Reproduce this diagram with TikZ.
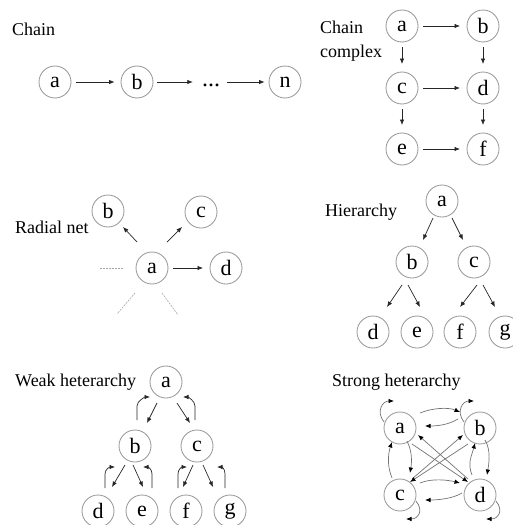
\documentclass[tikz,border=0pt]{standalone}
\usepackage{fontspec}
\setmainfont{Liberation Serif}
\usetikzlibrary{arrows.meta}
\begin{document}
\begin{tikzpicture}[x=1pt,y=-1pt,
  nd/.style={circle,draw=black!40,line width=0.85pt,minimum size=32pt,inner sep=0pt,font=\fontsize{22}{22}\selectfont},
  lbl/.style={anchor=base west,inner sep=0pt,font=\fontsize{18}{24}\selectfont},
  arr/.style={-{Latex[length=5.5pt,width=4.5pt]},line width=0.7pt,draw=black!85},
  harr/.style={-{Latex[length=5.5pt,width=4.5pt,color=black]},line width=0.7pt,draw=black!55},
  faint/.style={draw=black!35,line width=0.6pt,dash pattern=on 2pt off 1pt}]
\useasboundingbox (0,0) rectangle (513,525);

% Chain
\node[lbl] (l1) at (12,35) {Chain};
\node[nd] (ca) at (55,82) {a};
\node[nd] (cb) at (137,82) {b};
\node[anchor=base,inner sep=0pt,font=\fontsize{24}{24}\selectfont] (cdots) at (211,86) {...};
\node[nd] (cn) at (285,82) {n};
\draw[arr] ([xshift=5pt]ca.east) -- ([xshift=-6pt]cb.west);
\draw[arr,shorten >=9pt] ([xshift=4pt]cb.east) -- (cdots.west |- cb.east);
\draw[arr,shorten <=7pt] (cdots.east |- cn.west) -- ([xshift=-4pt]cn.west);

% Chain complex
\node[lbl,anchor=west,align=left] (l2) at (320,41) {Chain\\complex};
\node[nd] (xa) at (402,26) {a};
\node[nd] (xb) at (483,26) {b};
\node[nd] (xc) at (402,88) {c};
\node[nd] (xd) at (483,88) {d};
\node[nd] (xe) at (402,149) {e};
\node[nd] (xf) at (483,149) {f};
\foreach \s/\t in {xa/xb,xc/xd,xe/xf}
  \draw[arr] ([shift={(21,0)}]\s.center) -- ([shift={(-23,0)}]\t.center);
\foreach \s/\t in {xa/xc,xb/xd,xc/xe,xd/xf}
  \draw[arr] ([shift={(0,21)}]\s.center) -- ([shift={(0,-24)}]\t.center);

% Radial net
\node[lbl] (l3) at (15,233) {Radial net};
\node[nd] (ra) at (152,268) {a};
\node[nd] (rb) at (108,211) {b};
\node[nd] (rc) at (201,212) {c};
\node[nd] (rd) at (226,268) {d};
\draw[arr] ([shift={(-15,-26)}]ra.center) -- ([shift={(15,16)}]rb.center);
\draw[arr] ([shift={(15,-26)}]ra.center) -- ([shift={(-19,15)}]rc.center);
\draw[arr] ([shift={(21,0)}]ra.center) -- ([shift={(-23,0)}]rd.center);
\draw[faint] ([shift={(-29,0)}]ra.center) -- ([shift={(-52,0)}]ra.center);
\draw[faint] ([shift={(-17,25)}]ra.center) -- ([shift={(-35,46)}]ra.center);
\draw[faint] ([shift={(10,25)}]ra.center) -- ([shift={(26,47)}]ra.center);

% Hierarchy
\node[lbl] (l4) at (325,216) {Hierarchy};
\node[nd] (ha) at (442,201) {a};
\node[nd] (hb) at (412,262) {b};
\node[nd] (hc) at (474,262) {c};
\node[nd] (hd) at (373,332) {d};
\node[nd] (he) at (417,332) {e};
\node[nd] (hf) at (460,332) {f};
\node[nd] (hg) at (505,332) {g};
\draw[arr] ([shift={(-9,17)}]ha.center) -- ([shift={(11,-22)}]hb.center);
\draw[arr] ([shift={(10,17)}]ha.center) -- ([shift={(-11,-22)}]hc.center);
\draw[arr] ([shift={(-10,23)}]hb.center) -- ([shift={(14,-25)}]hd.center);
\draw[arr] ([shift={(-4,23)}]hb.center) -- ([shift={(3,-25)}]he.center);
\draw[arr] ([shift={(3,23)}]hc.center) -- ([shift={(0,-25)}]hf.center);
\draw[arr] ([shift={(9,23)}]hc.center) -- ([shift={(-10,-25)}]hg.center);

% Weak heterarchy
\node[lbl] (l5) at (15,386) {Weak heterarchy};
\node[nd] (wa) at (166,382) {a};
\node[nd] (wb) at (135,446) {b};
\node[nd] (wc) at (197,446) {c};
\node[nd] (wd) at (98,511) {d};
\node[nd] (we) at (142,511) {e};
\node[nd] (wf) at (186,511) {f};
\node[nd] (wg) at (230,511) {g};
\draw[arr] ([shift={(-9,21)}]wa.center) -- ([shift={(12,-23)}]wb.center);
\draw[arr] ([shift={(11,21)}]wa.center) -- ([shift={(-7,-23)}]wc.center);
\draw[arr] ([shift={(2,-26)}]wb.center) -- ([shift={(2,-40)}]wb.center) .. controls +(0,-5) and +(-5,0) .. ([shift={(-16,15)}]wa.center);
\draw[arr] ([shift={(-2,-26)}]wc.center) -- ([shift={(-2,-40)}]wc.center) .. controls +(0,-5) and +(5,0) .. ([shift={(17,15)}]wa.center);
\draw[arr] ([shift={(-10,19)}]wb.center) -- ([shift={(14,-24)}]wd.center);
\draw[arr] ([shift={(-2,19)}]wb.center) -- ([shift={(1,-24)}]we.center);
\draw[arr] ([shift={(7,-23)}]wd.center) -- ([shift={(7,-37)}]wd.center) .. controls +(0,-5) and +(-5,0) .. ([shift={(-20,21)}]wb.center);
\draw[arr] ([shift={(10,-23)}]we.center) -- ([shift={(10,-37)}]we.center) .. controls +(0,-5) and +(5,0) .. ([shift={(8,21)}]wb.center);
\draw[arr] ([shift={(-4,19)}]wc.center) -- ([shift={(-3,-24)}]wf.center);
\draw[arr] ([shift={(6,19)}]wc.center) -- ([shift={(-17,-24)}]wg.center);
\draw[arr] ([shift={(-8,-23)}]wf.center) -- ([shift={(-8,-37)}]wf.center) .. controls +(0,-5) and +(-5,0) .. ([shift={(-10,21)}]wc.center);
\draw[arr] ([shift={(-5,-23)}]wg.center) -- ([shift={(-5,-37)}]wg.center) .. controls +(0,-5) and +(5,0) .. ([shift={(20,21)}]wc.center);

% Strong heterarchy
\node[lbl] (l6) at (332,386) {Strong heterarchy};
\node[nd] (sa) at (400,428) {a};
\node[nd] (sb) at (480,428) {b};
\node[nd] (sc) at (400,495) {c};
\node[nd] (sd) at (480,495) {d};
% self loops
\draw[harr] ([shift={(-16,-6)}]sa.center) .. controls +(-8,-10) and +(-12,0) .. ([shift={(-6,-27)}]sa.center);
\draw[harr] ([shift={(-16,-6)}]sb.center) .. controls +(-8,-10) and +(-12,0) .. ([shift={(-6,-27)}]sb.center);
\draw[harr] ([shift={(16,6)}]sc.center) .. controls +(8,10) and +(12,0) .. ([shift={(6,24)}]sc.center);
\draw[harr] ([shift={(16,6)}]sd.center) .. controls +(8,10) and +(12,0) .. ([shift={(6,24)}]sd.center);
% a <-> b
\draw[harr] ([shift={(20,-15)}]sa.center) .. controls +(12,-5) and +(-12,-5) .. ([shift={(-20,-16)}]sb.center);
\draw[harr] ([shift={(-22,-9)}]sb.center) .. controls +(-10,6) and +(12,0) .. ([shift={(25,-2)}]sa.center);
% c <-> d
\draw[harr] ([shift={(20,-12)}]sc.center) .. controls +(12,-5) and +(-12,-3) .. ([shift={(-20,-12)}]sd.center);
\draw[harr] ([shift={(-18,-2)}]sd.center) .. controls +(-10,6) and +(12,0) .. ([shift={(25,5)}]sc.center);
% a <-> c
\draw[harr] ([shift={(-8,-17)}]sc.center) .. controls +(-5,-12) and +(-4,12) .. ([shift={(-8,14)}]sa.center);
\draw[harr] ([shift={(7,13)}]sa.center) .. controls +(5,10) and +(2,-12) .. ([shift={(10,-22)}]sc.center);
% b <-> d
\draw[harr] ([shift={(-8,-20)}]sd.center) .. controls +(-5,-12) and +(-3,12) .. ([shift={(-5,15)}]sb.center);
\draw[harr] ([shift={(5,12)}]sb.center) .. controls +(6,10) and +(2,-12) .. ([shift={(7,-20)}]sd.center);
% diagonals
\draw[harr] ([shift={(-12,-16)}]sd.center) -- ([shift={(18,7)}]sa.center);
\draw[harr] ([shift={(12,16)}]sa.center) -- ([shift={(-12,-13)}]sd.center);
\draw[harr] ([shift={(12,-16)}]sc.center) -- ([shift={(-17,7)}]sb.center);
\draw[harr] ([shift={(-12,16)}]sb.center) -- ([shift={(10,-13)}]sc.center);
\end{tikzpicture}
\end{document}
